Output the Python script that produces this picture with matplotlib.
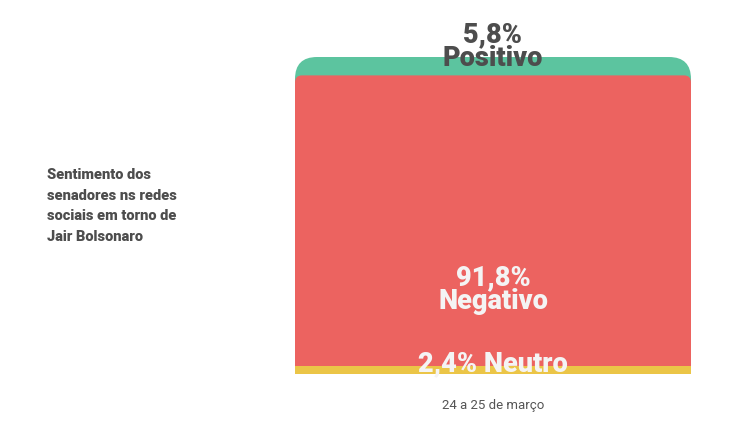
import matplotlib
matplotlib.use("Agg")
import matplotlib.pyplot as plt
from matplotlib.patches import FancyBboxPatch, Rectangle
import numpy as np

# Data
period = ["24 a 25 de março"]
categories = ["Neutro", "Negativo", "Positivo"]
values = [2.4, 91.8, 5.8]
colors = ["#EBC547", "#EC6360", "#5CC49F"]
title = "Sentimento dos\nsenadores ns redes\nsociais em torno de\nJair Bolsonaro"

W, H = 750, 421
fig = plt.figure(figsize=(W / 100, H / 100), dpi=100)
fig.patch.set_facecolor("white")
x0, x1, ytop, ybot = 295, 691, 57, 374
ax = fig.add_axes([x0 / W, (H - ybot) / H, (x1 - x0) / W, (ybot - ytop) / H])
ax.set_xlim(-0.5, 0.5)
ax.set_ylim(0, 100)
ax.axis("off")

bottoms = np.concatenate([[0], np.cumsum(values)[:-1]])
tops = bottoms + np.array(values)
px_per_y = (ybot - ytop) / 100.0
px_per_x = (x1 - x0) / 1.0
aspect = px_per_x / px_per_y
radii_px = [0, 7, 22]
order = [2, 1, 0]
for i in order:
    b, t, c, r = bottoms[i], tops[i], colors[i], radii_px[i]
    if r > 0:
        rs = r / px_per_x
        p = FancyBboxPatch((-0.5, -20), 1.0, t + 20,
                           boxstyle=f"round,pad=0,rounding_size={rs}",
                           mutation_aspect=aspect, fc=c, ec="none")
    else:
        p = Rectangle((-0.5, b), 1.0, t - b, fc=c, ec="none")
    ax.add_patch(p)

def fmt(v):
    return f"{v:.1f}%".replace(".", ",")

font = "Roboto"
# Positivo label (above top)
ax.annotate(f"{fmt(values[2])}\n{categories[2]}", (0, tops[2]), xytext=(0, 7.5),
            textcoords="offset points", ha="center", va="center", fontsize=19.5,
            fontweight="black", color="#4D4D4D", family=font, linespacing=0.85,
            annotation_clip=False)
# Negativo label
ax.annotate(f"{fmt(values[1])}\n{categories[1]}", (0, bottoms[1]), xytext=(0, 55),
            textcoords="offset points", ha="center", va="center", fontsize=19.5,
            fontweight="black", color="#F4F4F4", family=font, linespacing=0.85,
            annotation_clip=False)
# Neutro label
ax.annotate(f"{fmt(values[0])} {categories[0]}", (0, tops[0]), xytext=(0, 2),
            textcoords="offset points", ha="center", va="center", fontsize=19.5,
            fontweight="black", color="#F4F4F4", family=font,
            annotation_clip=False)

ax.annotate(period[0], (0, 0), xytext=(0, -23), textcoords="offset points",
            ha="center", va="center", fontsize=9.5, color="#555555", family=font,
            annotation_clip=False)

fig.text(47 / W, 1 - 168 / H, title, ha="left", va="top", fontsize=10.5,
         fontweight="black", color="#4D4D4D", family=font, linespacing=1.6)

fig.savefig("out.png", dpi=100, facecolor="white")
